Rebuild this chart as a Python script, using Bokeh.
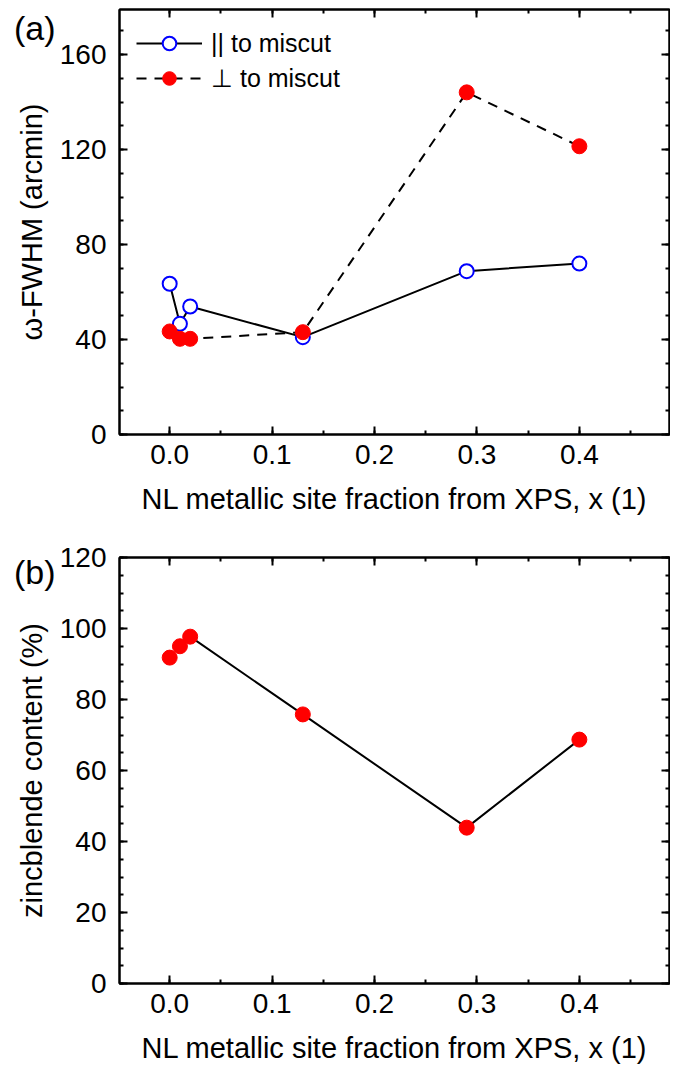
from bokeh.plotting import figure
from bokeh.models import (Range1d, LinearAxis, Legend, LegendItem, Div,
                          CustomJSTickFormatter, SingleIntervalTicker, PrintfTickFormatter)
from bokeh.layouts import column
from bokeh.embed import file_html
from bokeh.resources import INLINE

# ---------------- data ----------------
x_frac = [0.0, 0.01, 0.02, 0.13, 0.29, 0.40]
fwhm_par = [63.5, 46.6, 53.9, 41.0, 68.8, 72.0]
fwhm_perp = [43.4, 40.3, 40.3, 43.1, 144.1, 121.4]
zincblende = [91.8, 95.0, 97.7, 75.8, 43.9, 68.7]

x_label = "NL metallic site fraction from XPS, x (1)"
y_label_a = "\u03c9-FWHM (arcmin)"
y_label_b = "zincblende content (%)"
legend_labels = ["|| to miscut", "\u22a5 to miscut"]
panel_labels = ["(a)", "(b)"]

FONT = "Liberation Sans"
FS = "28px"
FS_LABEL = "29px"


def style_axis(ax, interval, minor, show_labels, fmt=None):
    ax.ticker = SingleIntervalTicker(interval=interval, num_minor_ticks=minor)
    ax.axis_line_width = 2
    ax.axis_line_color = "black"
    ax.major_tick_in = 8
    ax.major_tick_out = 0
    ax.minor_tick_in = 4
    ax.minor_tick_out = 0
    ax.major_tick_line_width = 2
    ax.minor_tick_line_width = 2
    ax.major_tick_line_color = "black"
    ax.minor_tick_line_color = "black"
    ax.major_label_text_font = FONT
    ax.major_label_text_color = "black"
    ax.axis_label_text_font = FONT
    ax.axis_label_text_font_style = "normal"
    ax.axis_label_text_color = "black"
    ax.axis_label_text_font_size = FS_LABEL
    if show_labels:
        ax.major_label_text_font_size = FS
        if fmt is not None:
            ax.formatter = fmt
    else:
        ax.formatter = CustomJSTickFormatter(code="return ''")
        ax.major_label_text_font_size = "0px"
        ax.major_label_standoff = 0


def make_fig(height, top, bottom, y_end, y_int, ylab):
    p = figure(width=670, height=height, output_backend="svg", toolbar_location=None,
               x_range=Range1d(-0.049, 0.488), y_range=Range1d(0, y_end),
               min_border_left=119, min_border_right=1,
               min_border_top=top, min_border_bottom=bottom,
               x_axis_label=x_label, y_axis_label=ylab)
    p.xgrid.visible = False
    p.ygrid.visible = False
    p.outline_line_color = "black"
    p.outline_line_width = 2
    p.background_fill_color = "white"
    p.border_fill_color = "white"
    xa = p.xaxis[0]
    ya = p.yaxis[0]
    style_axis(xa, 0.1, 2, True, PrintfTickFormatter(format="%.1f"))
    style_axis(ya, y_int, 4, True)
    xa.major_label_standoff = 10
    xa.axis_label_standoff = 16
    ya.major_label_standoff = 13
    ya.axis_label_standoff = 9
    ra = LinearAxis()
    style_axis(ra, y_int, 4, False)
    ta = LinearAxis()
    style_axis(ta, 0.1, 2, False)
    p.add_layout(ra, "right")
    p.add_layout(ta, "above")
    return p


def panel_div(text, top):
    return Div(text=text, margin=0,
               styles={"position": "absolute", "left": "14px", "top": f"{top}px",
                       "font-family": FONT, "font-size": "34px", "color": "black",
                       "line-height": "1", "z-index": "10"})


# ---------------- panel (a) ----------------
p1 = make_fig(520, 9, 86, 179, 40, y_label_a)
l_par = p1.line(x_frac, fwhm_par, line_color="black", line_width=2)
l_perp = p1.line(x_frac, fwhm_perp, line_color="black", line_width=2, line_dash="10 8")
s_par = p1.scatter(x_frac, fwhm_par, marker="circle", size=14, fill_color="white",
                   line_color="#0000ff", line_width=2)
s_perp = p1.scatter(x_frac, fwhm_perp, marker="circle", size=15, fill_color="#ff0000",
                    line_color="#ff0000", line_width=1)

legend = Legend(items=[LegendItem(label=legend_labels[0], renderers=[l_par, s_par]),
                       LegendItem(label=legend_labels[1], renderers=[l_perp, s_perp])],
                location="top_left")
legend.margin = 17
legend.padding = 0
legend.spacing = 1
legend.glyph_width = 66
legend.glyph_height = 34
legend.label_standoff = 9
legend.label_text_font = FONT
legend.label_text_font_size = "25px"
legend.label_text_color = "black"
legend.border_line_color = None
legend.background_fill_alpha = 0
p1.add_layout(legend)

# ---------------- panel (b) ----------------
p2 = make_fig(548, 37, 85, 120, 20, y_label_b)
p2.line(x_frac[2:], zincblende[2:], line_color="black", line_width=2)
p2.scatter(x_frac, zincblende, marker="circle", size=15, fill_color="#ff0000",
           line_color="#ff0000", line_width=1)

layout = column(p1, p2, panel_div(panel_labels[0], 11), panel_div(panel_labels[1], 555),
                spacing=0)
open("out.html", "w").write(file_html(layout, INLINE))
